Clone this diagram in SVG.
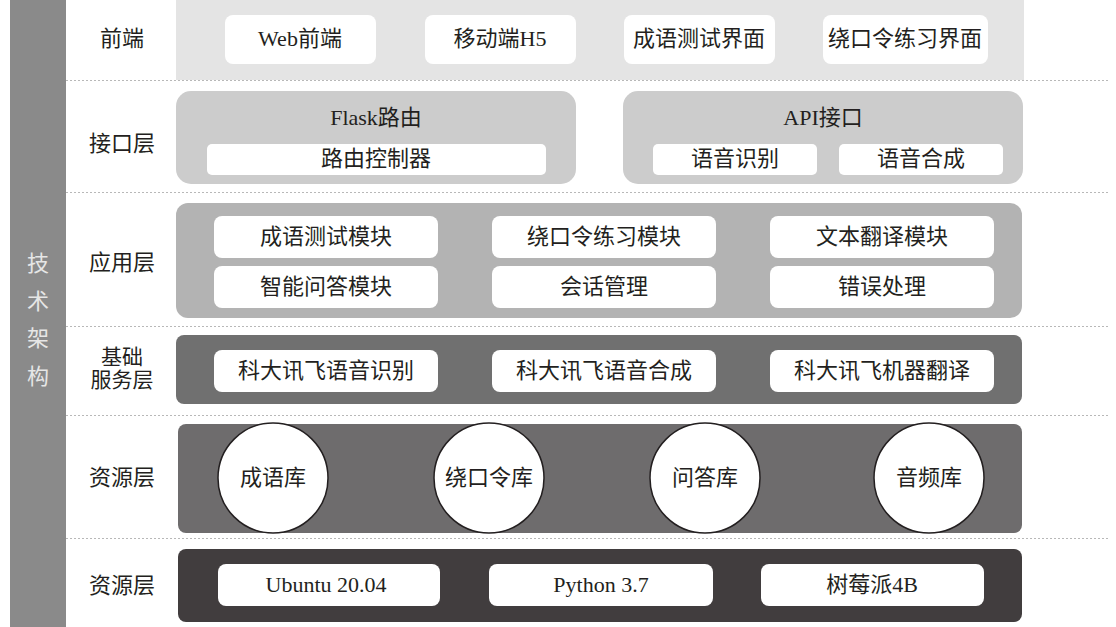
<svg xmlns="http://www.w3.org/2000/svg" width="1116" height="627" viewBox="0 0 1116 627">
<style>
text{font-family:"Liberation Serif","Noto Sans CJK SC",serif;fill:#231f20;text-anchor:middle;dominant-baseline:central;font-size:22px}
.box{fill:#fff}
.sep{stroke:#b8b8b8;stroke-width:1;stroke-dasharray:2 2;fill:none}
.side{fill:#e6e6e6;font-size:22px}
.circ{fill:#fff;stroke:#231f20;stroke-width:1.5}
.tight{font-size:21px}
</style>
<rect width="1116" height="627" fill="#fff"/>
<g id="sidebar">
<rect x="10" y="0" width="56" height="627" fill="#8a8a8a"/>
<text class="side" x="38" y="263">技</text>
<text class="side" x="38" y="301">术</text>
<text class="side" x="38" y="338">架</text>
<text class="side" x="38" y="376">构</text>
</g>
<g id="separators">
<line class="sep" x1="66" y1="80.5" x2="1110" y2="80.5"/>
<line class="sep" x1="66" y1="192.5" x2="1110" y2="192.5"/>
<line class="sep" x1="66" y1="326.5" x2="1110" y2="326.5"/>
<line class="sep" x1="66" y1="415.5" x2="1110" y2="415.5"/>
<line class="sep" x1="66" y1="538.5" x2="1110" y2="538.5"/>
</g>
<g id="labels">
<text x="122" y="38">前端</text>
<text x="122" y="143">接口层</text>
<text x="122" y="262">应用层</text>
<text class="tight" x="122" y="357">基础</text>
<text class="tight" x="122" y="380">服务层</text>
<text x="122" y="477">资源层</text>
<text x="122" y="585">资源层</text>
</g>
<g id="frontend">
<rect x="176" y="0" width="848" height="80" fill="#e4e4e4"/>
<rect class="box" x="225" y="15" width="151" height="49" rx="8"/>
<text x="300" y="38">Web前端</text>
<rect class="box" x="425" y="15" width="151" height="49" rx="8"/>
<text x="500" y="38">移动端H5</text>
<rect class="box" x="624" y="15" width="151" height="49" rx="8"/>
<text x="699" y="38">成语测试界面</text>
<rect class="box" x="823" y="15" width="165" height="49" rx="8"/>
<text x="905" y="38">绕口令练习界面</text>
</g>
<g id="interface">
<rect x="176" y="91" width="400" height="93" rx="15" fill="#cccccc"/>
<text x="376" y="117">Flask路由</text>
<rect class="box" x="207" y="144" width="339" height="31" rx="5"/>
<text x="376" y="158">路由控制器</text>
<rect x="623" y="91" width="400" height="93" rx="15" fill="#cccccc"/>
<text x="823" y="117">API接口</text>
<rect class="box" x="653" y="144" width="164" height="31" rx="5"/>
<text x="735" y="158">语音识别</text>
<rect class="box" x="839" y="144" width="164" height="31" rx="5"/>
<text x="921" y="158">语音合成</text>
</g>
<g id="application">
<rect x="176" y="203" width="846" height="115" rx="12" fill="#b3b3b3"/>
<rect class="box" x="214" y="216" width="224" height="42" rx="8"/>
<text x="326" y="236">成语测试模块</text>
<rect class="box" x="492" y="216" width="224" height="42" rx="8"/>
<text x="604" y="236">绕口令练习模块</text>
<rect class="box" x="770" y="216" width="224" height="42" rx="8"/>
<text x="882" y="236">文本翻译模块</text>
<rect class="box" x="214" y="266" width="224" height="42" rx="8"/>
<text x="326" y="286">智能问答模块</text>
<rect class="box" x="492" y="266" width="224" height="42" rx="8"/>
<text x="604" y="286">会话管理</text>
<rect class="box" x="770" y="266" width="224" height="42" rx="8"/>
<text x="882" y="286">错误处理</text>
</g>
<g id="base-service">
<rect x="176" y="335" width="846" height="69" rx="8" fill="#707070"/>
<rect class="box" x="214" y="350" width="224" height="42" rx="8"/>
<text x="326" y="370">科大讯飞语音识别</text>
<rect class="box" x="492" y="350" width="224" height="42" rx="8"/>
<text x="604" y="370">科大讯飞语音合成</text>
<rect class="box" x="770" y="350" width="224" height="42" rx="8"/>
<text x="882" y="370">科大讯飞机器翻译</text>
</g>
<g id="resources">
<rect x="178" y="424" width="844" height="109" rx="8" fill="#6e6c6d"/>
<circle class="circ" cx="273" cy="478" r="55"/>
<text x="273" y="477">成语库</text>
<circle class="circ" cx="489" cy="478" r="55"/>
<text x="489" y="477">绕口令库</text>
<circle class="circ" cx="705" cy="478" r="55"/>
<text x="705" y="477">问答库</text>
<circle class="circ" cx="929" cy="478" r="55"/>
<text x="929" y="477">音频库</text>
</g>
<g id="platform">
<rect x="178" y="549" width="844" height="73" rx="8" fill="#413d3e"/>
<rect class="box" x="218" y="564" width="222" height="42" rx="8"/>
<text x="326" y="584">Ubuntu 20.04</text>
<rect class="box" x="489" y="564" width="224" height="42" rx="8"/>
<text x="601" y="584">Python 3.7</text>
<rect class="box" x="761" y="564" width="223" height="42" rx="8"/>
<text x="872" y="584">树莓派4B</text>
</g>
</svg>
